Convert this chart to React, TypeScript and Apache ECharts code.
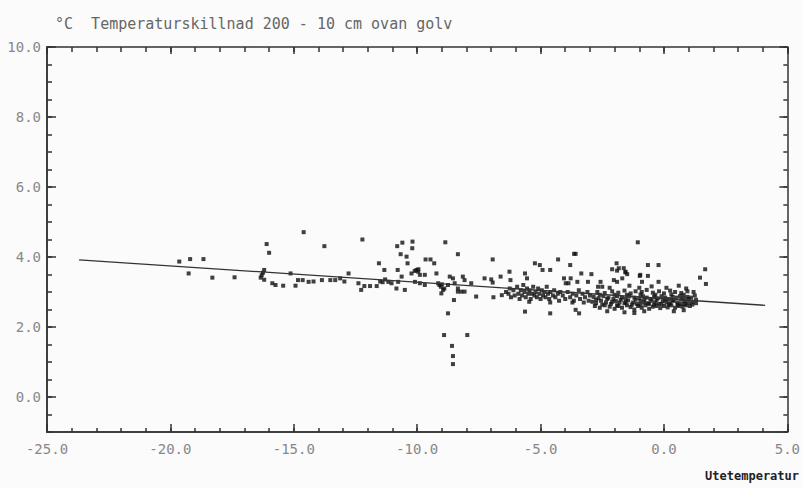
import React, { useEffect, useRef } from "react";
import * as echarts from "echarts";

const titleText = "°C  Temperaturskillnad 200 - 10 cm ovan golv";
const xName = "Utetemperatur";
const yLabelValues = [0, 2, 4, 6, 8, 10];

// Regression line end points [outdoor temp, difference]
const regressionLine = [
  [-23.7, 3.92],
  [4.1, 2.62],
];

// Observations below -12 °C
const coldPoints = [
  [-19.64, 3.87], [-19.2, 3.94], [-18.66, 3.94], [-19.26, 3.53], [-18.3, 3.41], [-17.4, 3.42],
  [-16.1, 4.37], [-16.0, 4.12], [-16.2, 3.63], [-16.25, 3.55], [-16.3, 3.48], [-16.34, 3.41], [-16.2, 3.35],
  [-15.87, 3.25], [-15.74, 3.2], [-15.43, 3.18], [-15.13, 3.53],
  [-14.6, 4.71], [-14.93, 3.18], [-14.83, 3.34], [-14.64, 3.34], [-14.4, 3.29], [-14.2, 3.3],
  [-13.76, 4.31], [-13.86, 3.34], [-13.52, 3.34], [-13.32, 3.34], [-13.12, 3.39], [-12.95, 3.3],
];

// Observations -12.8 .. -6.2 °C
const midPoints = [
  [-12.22, 4.5], [-12.78, 3.53], [-12.38, 3.25], [-12.27, 3.06], [-12.14, 3.17], [-11.91, 3.17], [-11.64, 3.17],
  [-11.55, 3.82], [-11.33, 3.63], [-11.3, 3.36], [-11.17, 3.29], [-11.04, 3.25], [-11.5, 3.3], [-11.4, 3.28],
  [-10.81, 4.31], [-10.6, 4.41], [-10.19, 4.44], [-10.2, 4.25], [-10.67, 4.08], [-10.43, 4.01], [-10.39, 3.82],
  [-10.79, 3.63], [-10.63, 3.44], [-10.77, 3.29], [-10.84, 3.1], [-10.5, 3.06],
  [-10.23, 3.53], [-10.03, 3.63], [-9.96, 3.58], [-9.89, 3.49], [-10.09, 3.29], [-9.89, 3.25], [-9.69, 3.49], [-9.69, 3.2],
  [-10.1, 3.6], [-9.95, 3.65],
  [-9.66, 3.93], [-9.46, 3.93], [-9.31, 3.82],
  [-9.22, 3.53], [-9.15, 3.25], [-9.04, 3.15], [-8.95, 3.06], [-9.02, 2.96], [-8.75, 3.2], [-9.1, 3.2], [-9.0, 3.22], [-8.9, 3.1],
  [-8.86, 4.42], [-8.35, 4.08], [-8.75, 2.39], [-8.91, 1.77], [-7.97, 1.77], [-8.59, 1.46], [-8.55, 1.17], [-8.55, 0.94],
  [-8.68, 3.44], [-8.55, 3.39], [-8.48, 3.25], [-8.35, 3.1], [-8.21, 3.01], [-8.08, 3.01], [-8.35, 3.01], [-8.51, 2.77],
  [-8.15, 3.44], [-8.08, 3.34], [-7.81, 3.25], [-7.61, 2.87],
  [-7.27, 3.39], [-7.0, 3.36], [-6.94, 3.27], [-6.62, 3.44], [-6.57, 2.91], [-6.91, 2.85], [-6.94, 3.93],
];

// Observations -6.4 .. -3 °C
const warmPoints = [
  [-6.26, 3.58], [-6.22, 3.34], [-5.63, 3.53], [-5.55, 3.39], [-5.23, 3.82], [-5.03, 3.77], [-4.92, 3.63], [-4.61, 3.63],
  [-4.29, 3.93], [-3.64, 4.09], [-3.58, 4.09], [-3.8, 3.77], [-4.05, 3.39], [-3.78, 3.39], [-3.98, 3.25], [-3.87, 3.25],
  [-3.51, 3.29], [-3.35, 3.53], [-3.08, 3.29], [-2.94, 3.51], [-2.67, 3.15], [-2.57, 3.29],
  [-5.63, 2.44], [-4.61, 2.7], [-4.61, 2.39], [-3.71, 2.7], [-3.58, 2.49], [-3.44, 2.39], [-5.46, 2.72],
  [-6.4, 3.0], [-6.3, 2.95], [-6.25, 3.1], [-6.2, 2.85], [-6.1, 3.05], [-6.05, 2.9], [-5.95, 3.15], [-5.9, 2.95],
  [-5.85, 2.8], [-5.8, 3.05], [-5.75, 2.9], [-5.7, 3.2], [-5.65, 3.0], [-5.6, 2.85], [-5.55, 3.1], [-5.5, 2.95],
  [-5.45, 3.05], [-5.4, 2.8], [-5.35, 2.95], [-5.3, 3.15], [-5.25, 2.9], [-5.2, 3.0], [-5.15, 2.85], [-5.1, 3.1],
  [-5.05, 2.95], [-5.0, 2.8], [-4.95, 3.05], [-4.9, 2.9], [-4.85, 3.0], [-4.8, 2.85], [-4.75, 3.15], [-4.7, 2.95],
  [-4.65, 2.8], [-4.6, 3.0], [-4.5, 2.9], [-4.45, 3.05], [-4.4, 2.85], [-4.3, 2.95], [-4.25, 2.75], [-4.2, 3.0],
  [-4.1, 2.9], [-4.0, 2.8], [-3.9, 3.0], [-3.8, 2.85], [-3.7, 2.95], [-3.65, 2.75], [-3.55, 2.9], [-3.45, 3.05],
  [-3.4, 2.8], [-3.3, 2.95], [-3.25, 2.7], [-3.2, 2.85], [-3.1, 3.0], [-3.05, 2.75], [-3.0, 2.9],
];

// Observations above -3 °C (upper scatter)
const mildUpper = [
  [-1.92, 3.82], [-2.1, 3.65], [-1.9, 3.61], [-1.63, 3.68], [-1.56, 3.58], [-2.03, 3.34], [-1.9, 3.29], [-1.69, 3.39],
  [-1.06, 4.42], [-0.96, 3.49], [-0.65, 3.77], [-0.22, 3.77], [-0.98, 3.46], [-0.65, 3.46], [-0.89, 3.29], [-0.22, 3.29],
  [1.67, 3.65], [1.46, 3.41], [1.7, 3.23], [-1.83, 3.68], [-1.49, 3.51], [-1.56, 3.56],
];

// Observations above -3 °C (dense band)
const mildBand = [
  [-2.8, 2.6], [-2.6, 2.55], [-2.4, 2.62], [-2.2, 2.58], [-2.0, 2.52], [-1.85, 2.6], [-1.7, 2.55], [-1.5, 2.62],
  [-1.35, 2.57], [-1.2, 2.5], [-1.05, 2.6], [-0.9, 2.55], [-0.75, 2.62], [-0.6, 2.52], [-0.45, 2.58], [-0.3, 2.6],
  [-0.15, 2.54], [0.0, 2.6], [0.15, 2.56], [0.3, 2.62], [0.45, 2.55], [0.6, 2.6], [0.75, 2.58], [0.9, 2.62], [1.05, 2.6],
  [-2.9, 2.72], [-2.75, 2.68], [-2.55, 2.75], [-2.35, 2.7], [-2.15, 2.66], [-1.95, 2.74], [-1.8, 2.7], [-1.6, 2.68],
  [-1.45, 2.76], [-1.25, 2.7], [-1.1, 2.66], [-0.95, 2.74], [-0.8, 2.7], [-0.65, 2.68], [-0.5, 2.75], [-0.35, 2.7],
  [-0.2, 2.66], [-0.05, 2.74], [0.1, 2.7], [0.25, 2.68], [0.4, 2.75], [0.55, 2.7], [0.7, 2.66], [0.85, 2.74],
  [1.0, 2.7], [1.15, 2.72], [1.3, 2.78],
  [-2.85, 2.86], [-2.65, 2.82], [-2.45, 2.88], [-2.25, 2.84], [-2.05, 2.8], [-1.9, 2.88], [-1.7, 2.84], [-1.55, 2.8],
  [-1.4, 2.88], [-1.2, 2.84], [-1.0, 2.82], [-0.85, 2.88], [-0.7, 2.84], [-0.55, 2.8], [-0.4, 2.86], [-0.25, 2.82],
  [-0.1, 2.88], [0.05, 2.84], [0.2, 2.8], [0.35, 2.86], [0.5, 2.84], [0.65, 2.88], [0.8, 2.82], [0.95, 2.86],
  [1.1, 2.84], [1.25, 2.9],
  [-2.7, 3.0], [-2.4, 2.97], [-2.1, 3.02], [-1.85, 2.98], [-1.6, 3.04], [-1.35, 2.96], [-1.15, 3.02], [-0.9, 3.0],
  [-0.7, 3.06], [-0.45, 2.98], [-0.2, 3.02], [0.0, 2.96], [0.25, 3.04], [0.45, 3.0], [0.7, 2.97], [0.95, 3.02], [1.2, 3.0],
  [-2.5, 3.15], [-2.2, 3.12], [-1.4, 3.18], [-1.0, 3.12], [-0.5, 3.16], [0.1, 3.12], [0.6, 3.18], [0.9, 3.1],
  [-2.3, 2.45], [-1.6, 2.42], [-0.8, 2.45], [0.4, 2.45], [-1.2, 2.4], [0.8, 2.48],
];

// Extra observations filling the dense band
const mildBandExtra = [
  [-2.75, 2.78], [-2.5, 2.64], [-2.3, 2.8], [-2.1, 2.72], [-1.9, 2.62], [-1.75, 2.78], [-1.55, 2.7], [-1.3, 2.64],
  [-1.15, 2.78], [-0.95, 2.64], [-0.8, 2.78], [-0.6, 2.66], [-0.4, 2.64], [-0.3, 2.78], [-0.1, 2.66], [0.05, 2.78],
  [0.2, 2.64], [0.35, 2.76], [0.55, 2.64], [0.7, 2.78], [0.85, 2.66], [1.0, 2.8], [1.15, 2.64], [-2.6, 2.92],
  [-2.0, 2.92], [-1.5, 2.92], [-0.95, 2.93], [-0.35, 2.92], [0.3, 2.93], [0.8, 2.92], [1.3, 2.68],
];

const labelFont = "'DejaVu Sans Mono', 'Liberation Mono', monospace";
const ink = "#333";

export default function App() {
  const ref = useRef<HTMLDivElement>(null);
  useEffect(() => {
    document.body.style.margin = "0";
    const chart = echarts.init(ref.current!, null, { renderer: "svg" });
    const X = (o: any) => ({ type: "value", min: -25, max: 5, splitLine: { show: false }, ...o });
    const Y = (o: any) => ({ type: "value", min: -1, max: 10, splitLine: { show: false }, ...o });
    const line = () => ({ show: true, onZero: false, lineStyle: { color: ink, width: 1.5 } });
    const noLine = () => ({ show: false, onZero: false });
    const tick = (length: number, extra: any = {}) => ({
      show: true,
      inside: true,
      length,
      lineStyle: { color: ink, width: 1.5 },
      ...extra,
    });
    const allPoints = [...coldPoints, ...midPoints, ...warmPoints, ...mildUpper, ...mildBand, ...mildBandExtra];
    chart.setOption({
      animation: false,
      backgroundColor: "#fbfbfb",
      grid: { left: 47, right: 13, top: 47, bottom: 56 },
      title: {
        text: titleText,
        left: 50,
        top: 11,
        textStyle: { fontFamily: labelFont, fontSize: 15, fontWeight: "normal", color: "#666" },
      },
      graphic: [
        {
          type: "text",
          right: 4,
          top: 470,
          style: { text: xName, font: `bold 12px ${labelFont}`, fill: "#222" },
        },
      ],
      xAxis: [
        X({
          position: "bottom",
          interval: 5,
          axisLine: line(),
          axisTick: { show: false },
          axisLabel: {
            show: true,
            margin: 10,
            fontFamily: labelFont,
            fontSize: 14,
            color: "#888",
            formatter: (v: number) => v.toFixed(1),
          },
        }),
        X({ position: "bottom", interval: 5, axisLine: noLine(), axisTick: tick(8), axisLabel: { show: false } }),
        X({ position: "bottom", interval: 1, axisLine: line(), axisTick: tick(4), axisLabel: { show: false } }),
        X({ position: "top", interval: 5, axisLine: line(), axisTick: tick(7), axisLabel: { show: false } }),
        X({ position: "top", interval: 1, axisLine: noLine(), axisTick: tick(5), axisLabel: { show: false } }),
      ],
      yAxis: [
        Y({
          position: "left",
          interval: 1,
          axisLine: line(),
          axisTick: { show: false },
          axisLabel: {
            show: true,
            margin: 6,
            fontFamily: labelFont,
            fontSize: 14,
            color: "#888",
            customValues: yLabelValues,
            formatter: (v: number) => v.toFixed(1),
          },
        }),
        Y({ position: "left", interval: 1, axisLine: noLine(), axisTick: tick(9, { customValues: yLabelValues }), axisLabel: { show: false } }),
        Y({ position: "left", interval: 0.5, axisLine: line(), axisTick: tick(5), axisLabel: { show: false } }),
        Y({ position: "right", interval: 1, axisLine: line(), axisTick: tick(8, { customValues: yLabelValues }), axisLabel: { show: false } }),
        Y({ position: "right", interval: 0.5, axisLine: noLine(), axisTick: tick(4), axisLabel: { show: false } }),
      ],
      series: [
        {
          type: "line",
          data: regressionLine,
          xAxisIndex: 0,
          yAxisIndex: 0,
          symbol: "none",
          lineStyle: { color: ink, width: 1.3 },
        },
        {
          type: "scatter",
          data: allPoints,
          xAxisIndex: 0,
          yAxisIndex: 0,
          symbol: "rect",
          symbolSize: 4,
          itemStyle: { color: "#111" },
        },
      ],
    });
    return () => chart.dispose();
  }, []);
  return <div ref={ref} style={{ width: 803, height: 488 }} />;
}
